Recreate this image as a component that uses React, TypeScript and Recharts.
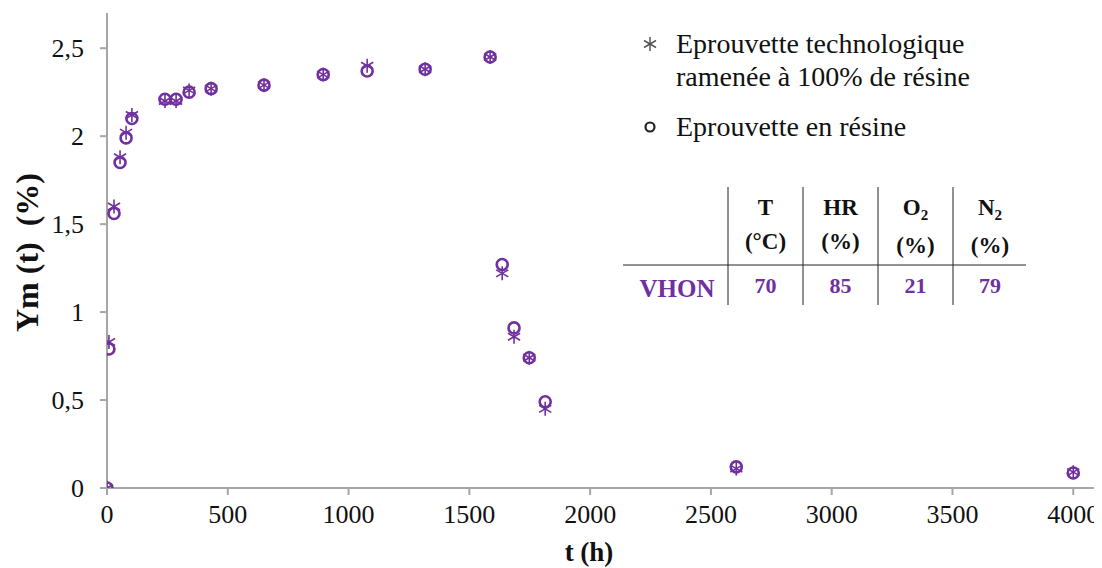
import { ScatterChart, Scatter, XAxis, YAxis } from "recharts";

// time (h)
const times = [0, 8, 29, 54, 79, 103, 240, 286, 340, 431, 650, 895, 1077, 1317, 1586, 1636, 1685, 1748, 1814, 2605, 4000];
// Eprouvette en résine
const resine = [0, 0.79, 1.56, 1.85, 1.99, 2.1, 2.21, 2.21, 2.25, 2.27, 2.29, 2.35, 2.37, 2.38, 2.45, 1.27, 0.91, 0.74, 0.49, 0.12, 0.085];
// Eprouvette technologique ramenée à 100% de résine
const techno = [0, 0.83, 1.6, 1.88, 2.02, 2.12, 2.2, 2.2, 2.26, 2.27, 2.29, 2.35, 2.4, 2.38, 2.45, 1.22, 0.86, 0.74, 0.45, 0.11, 0.09];

const xTicks = [0, 500, 1000, 1500, 2000, 2500, 3000, 3500, 4000];
const yTicks = [0, 0.5, 1, 1.5, 2, 2.5];

const seriesNames = ["Eprouvette technologique", "ramenée à 100% de résine", "Eprouvette en résine"];

// conditions table
const tableHeads = [
    { main: "T", sub: "", unit: "(°C)" },
    { main: "HR", sub: "", unit: "(%)" },
    { main: "O", sub: "2", unit: "(%)" },
    { main: "N", sub: "2", unit: "(%)" },
];
const tableRowName = "VHON";
const tableValues = [70, 85, 21, 79];

const resineData = times.map((t, i) => ({ t, v: resine[i] }));
const technoData = times.map((t, i) => ({ t, v: techno[i] }));

const PURPLE = "#7030A0";
const AXIS = "#A6A6A6";
const FONT = "Liberation Serif";

const StarShape = (props: any) => {
    const { cx, cy } = props;
    const r = 7;
    return (
        <g stroke={PURPLE} strokeWidth={1.6}>
            <line x1={cx} y1={cy - r} x2={cx} y2={cy + r} />
            <line x1={cx - r * 0.87} y1={cy - r * 0.5} x2={cx + r * 0.87} y2={cy + r * 0.5} />
            <line x1={cx - r * 0.87} y1={cy + r * 0.5} x2={cx + r * 0.87} y2={cy - r * 0.5} />
        </g>
    );
};

const RingShape = (props: any) => {
    const { cx, cy } = props;
    return <circle cx={cx} cy={cy} r={5.5} fill="none" stroke={PURPLE} strokeWidth={2.6} />;
};

const YLabel = (props: any) => {
    const vb = props.viewBox || { y: 5, height: 475 };
    const cy = vb.y + vb.height / 2 + 2;
    return (
        <text x={19} y={cy} transform={`rotate(-90, 19, ${cy})`} textAnchor="middle" dominantBaseline="central"
            fontFamily={FONT} fontWeight="bold" fontSize={32} fill="#111">
            {"Ym (t)\u00A0 (%)"}
        </text>
    );
};

const XLabel = (props: any) => {
    const vb = props.viewBox || { x: 99, width: 988 };
    return (
        <text x={vb.x + vb.width / 2 - 12} y={553} textAnchor="middle"
            fontFamily={FONT} fontWeight="bold" fontSize={27} fill="#111">
            t (h)
        </text>
    );
};

const colX = [720, 795, 870, 945];

// legend + conditions table drawn over the plot
function Overlay() {
    return (
        <svg width={1094} height={560} style={{ position: "absolute", left: 0, top: 0, pointerEvents: "none" }}>
            <g stroke="#555" strokeWidth={1.5}>
                <line x1={642} y1={29} x2={642} y2={43} />
                <line x1={636} y1={32.5} x2={648} y2={39.5} />
                <line x1={636} y1={39.5} x2={648} y2={32.5} />
            </g>
            <g fontFamily={FONT} fontSize={28} fill="#111">
                <text x={668} y={45}>{seriesNames[0]}</text>
                <text x={668} y={78}>{seriesNames[1]}</text>
                <text x={668} y={128}>{seriesNames[2]}</text>
            </g>
            <circle cx={642} cy={119} r={4.5} fill="none" stroke="#222" strokeWidth={2.2} />

            {colX.map((x) => (
                <line key={x} x1={x} y1={179} x2={x} y2={297} stroke="#222" strokeWidth={1} />
            ))}
            <line x1={615} y1={257} x2={1018} y2={257} stroke="#222" strokeWidth={1} />
            {tableHeads.map((h, i) => {
                const cx = i < 3 ? (colX[i] + colX[i + 1]) / 2 : 982;
                return (
                    <g key={i} fontWeight="bold" fill="#111" textAnchor="middle" fontFamily={FONT}>
                        <text x={cx} y={207} fontSize={23}>
                            {h.main}
                            {h.sub && <tspan fontSize={15} dy={5}>{h.sub}</tspan>}
                        </text>
                        <text x={cx} y={i < 2 ? 241 : 245} fontSize={23}>{h.unit}</text>
                    </g>
                );
            })}
            <text x={669} y={289} textAnchor="middle" fontFamily={FONT} fontSize={25} fontWeight="bold" fill={PURPLE}>{tableRowName}</text>
            {tableValues.map((v, i) => {
                const cx = i < 3 ? (colX[i] + colX[i + 1]) / 2 : 982;
                return (
                    <text key={i} x={cx} y={285} textAnchor="middle" fontFamily={FONT} fontSize={22} fontWeight="bold" fill={PURPLE}>{v}</text>
                );
            })}
        </svg>
    );
}

export default function App() {
    return (
        <div style={{ position: "relative", width: 1094, height: 560 }}>
            <ScatterChart width={1094} height={560} margin={{ top: 5, right: 7, left: 0, bottom: 0 }}>
                <XAxis
                    type="number"
                    dataKey="t"
                    domain={[0, 4090]}
                    ticks={xTicks}
                    allowDataOverflow
                    height={80}
                    stroke={AXIS}
                    strokeWidth={2}
                    tickSize={7}
                    tickMargin={10}
                    tick={{ fill: "#111", fontSize: 26, fontFamily: FONT }}
                    label={<XLabel />}
                />
                <YAxis
                    type="number"
                    dataKey="v"
                    domain={[0, 2.7]}
                    ticks={yTicks}
                    allowDataOverflow
                    width={99}
                    stroke={AXIS}
                    strokeWidth={2}
                    tickSize={7}
                    tickMargin={16}
                    tick={{ fill: "#111", fontSize: 26, fontFamily: FONT }}
                    tickFormatter={(v: number) => String(v).replace(".", ",")}
                    label={<YLabel />}
                />
                <Scatter name="Eprouvette technologique ramenée à 100% de résine" data={technoData} shape={<StarShape />} isAnimationActive={false} />
                <Scatter name="Eprouvette en résine" data={resineData} shape={<RingShape />} isAnimationActive={false} />
            </ScatterChart>
            <Overlay />
        </div>
    );
}
